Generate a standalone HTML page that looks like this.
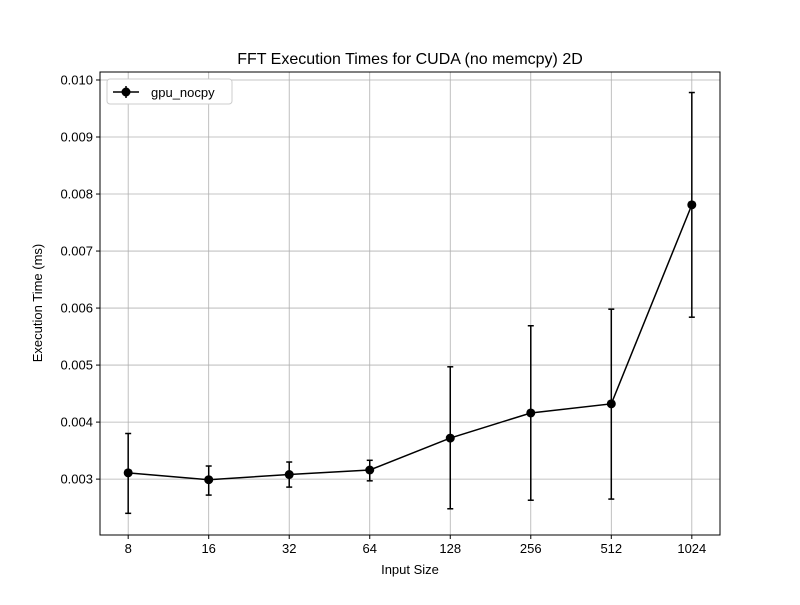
<!DOCTYPE html>
<html><head><meta charset="utf-8">
<style>
body{margin:0;background:#fff;}
svg text{font-family:"Liberation Sans","DejaVu Sans",sans-serif;fill:#000;}
</style></head>
<body>
<svg id="chart" width="800" height="600" xmlns="http://www.w3.org/2000/svg">
<rect x="0" y="0" width="800" height="600" fill="#fff"/>
<text x="410" y="64" font-size="16" text-anchor="middle">FFT Execution Times for CUDA (no memcpy) 2D</text>
<g id="grid"></g>
<g id="ticks"></g>
<g id="series"></g>
<rect x="100" y="72" width="620" height="463" fill="none" stroke="#000" stroke-width="1"/>
<text x="410" y="574" font-size="13" text-anchor="middle">Input Size</text>
<text x="42" y="303" font-size="13" text-anchor="middle" transform="rotate(-90 42 303)">Execution Time (ms)</text>
<g>
<rect x="107" y="79" width="125" height="25" rx="3" fill="#fff" stroke="#ccc"/>
<line x1="113" y1="92" x2="139" y2="92" stroke="#000" stroke-width="1.5"/>
<line x1="126" y1="86" x2="126" y2="98" stroke="#000" stroke-width="1.5"/>
<circle cx="126" cy="92" r="4.5" fill="#000"/>
<text x="151" y="97" font-size="13">gpu_nocpy</text>
</g>
</svg>
<script>
const categories = ["8","16","32","64","128","256","512","1024"];
const values = [0.00311,0.00299,0.00308,0.00316,0.00372,0.00416,0.00432,0.00781];
const errLow = [0.00240,0.00272,0.00286,0.00297,0.00248,0.00263,0.00265,0.00584];
const errHigh = [0.00380,0.00323,0.00330,0.00333,0.00497,0.00569,0.00598,0.00978];
const yTicks = [0.003,0.004,0.005,0.006,0.007,0.008,0.009,0.010];
const yTickLabels = ["0.003","0.004","0.005","0.006","0.007","0.008","0.009","0.010"];

const L=100,R=720,T=72,B=535;
const yMin=0.00202,yMax=0.01014;
const xMin=-0.35,xMax=categories.length-1+0.35;
const xS=i=>L+(i-xMin)/(xMax-xMin)*(R-L);
const yS=v=>B-(v-yMin)/(yMax-yMin)*(B-T);
const NS="http://www.w3.org/2000/svg";
function mk(tag,attrs,parent,txt){const e=document.createElementNS(NS,tag);for(const k in attrs)e.setAttribute(k,attrs[k]);if(txt!==undefined)e.textContent=txt;parent.appendChild(e);return e;}
const grid=document.getElementById('grid'),ticks=document.getElementById('ticks'),ser=document.getElementById('series');
categories.forEach((c,i)=>{
  const x=xS(i);
  const g=mk('line',{x1:x,x2:x,y1:T,y2:B,stroke:'#b0b0b0','stroke-width':0.8},grid);
  
  
  mk('line',{x1:x,x2:x,y1:B,y2:B+4,stroke:'#000'},ticks);
  const t=mk('text',{x:x,y:B+18,'font-size':13,'text-anchor':'middle'},ticks,c);
  
  
});
yTicks.forEach((v,i)=>{
  const y=yS(v);
  const g=mk('line',{x1:L,x2:R,y1:y,y2:y,stroke:'#b0b0b0','stroke-width':0.8},grid);
  
  
  mk('line',{x1:L-4,x2:L,y1:y,y2:y,stroke:'#000'},ticks);
  const t=mk('text',{x:L-7,y:y+4.5,'font-size':13,'text-anchor':'end'},ticks,yTickLabels[i]);
  
  
});
values.forEach((v,i)=>{
  const x=xS(i);
  const e=mk('g',{},ser);
  
  
  mk('line',{x1:x,x2:x,y1:yS(errLow[i]),y2:yS(errHigh[i]),stroke:'#000','stroke-width':1.5},e);
  mk('line',{x1:x-3,x2:x+3,y1:yS(errLow[i]),y2:yS(errLow[i]),stroke:'#000','stroke-width':1.5},e);
  mk('line',{x1:x-3,x2:x+3,y1:yS(errHigh[i]),y2:yS(errHigh[i]),stroke:'#000','stroke-width':1.5},e);
});
const line=mk('polyline',{points:values.map((v,i)=>xS(i)+','+yS(v)).join(' '),fill:'none',stroke:'#000','stroke-width':1.5},ser);


values.forEach((v,i)=>{
  const p=mk('circle',{cx:xS(i),cy:yS(v),r:4.5,fill:'#000'},ser);
  
  
});
</script>
</body></html>
